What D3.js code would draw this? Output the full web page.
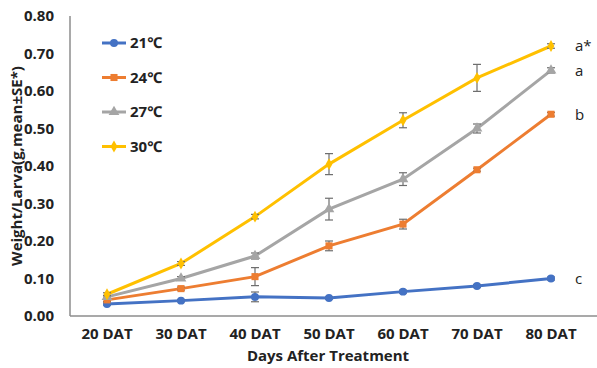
<!DOCTYPE html>
<html>
<head>
<meta charset="utf-8">
<script src="https://cdn.jsdelivr.net/npm/d3@7"></script>
<style>
  body { margin: 0; background: #fff; }
  text { font-family: "Open Sans", "Noto Sans", sans-serif; }
</style>
</head>
<body>
<svg width="597" height="368"></svg>
<script>
// data
var days = ["20 DAT", "30 DAT", "40 DAT", "50 DAT", "60 DAT", "70 DAT", "80 DAT"];
var temps = ["21℃", "24℃", "27℃", "30℃"];
var t21 = [0.032, 0.041, 0.051, 0.048, 0.065, 0.080, 0.100];
var t24 = [0.043, 0.073, 0.105, 0.187, 0.245, 0.390, 0.538];
var t27 = [0.051, 0.100, 0.160, 0.285, 0.365, 0.500, 0.655];
var t30 = [0.058, 0.140, 0.265, 0.405, 0.522, 0.635, 0.720];
var se21 = [0.003, 0.003, 0.013, 0.003, 0.004, 0.004, 0.004];
var se24 = [0.004, 0.004, 0.024, 0.013, 0.013, 0.004, 0.005];
var se27 = [0.004, 0.005, 0.008, 0.029, 0.017, 0.012, 0.007];
var se30 = [0.004, 0.005, 0.006, 0.028, 0.020, 0.036, 0.006];
var letters = ["c", "b", "a", "a*"];
var yTicks = [0, 0.1, 0.2, 0.3, 0.4, 0.5, 0.6, 0.7, 0.8];

var colors = ["#4472C4", "#ED7D31", "#A5A5A5", "#FFC000"];
var shapes = [d3.symbolCircle, d3.symbolSquare, d3.symbolTriangle, d3.symbolDiamond];
var symSize = [50, 50, 50, 40];

var series = [t21, t24, t27, t30].map(function(v, i) {
    return { name: temps[i], color: colors[i], shape: shapes[i], size: symSize[i],
             letter: letters[i],
             pts: v.map(function(d, j) { return { day: days[j], v: d, se: [se21, se24, se27, se30][i][j] }; }) };
});

var svg = d3.select("svg");
var pLeft = 70, pRight = 588, pTop = 16, pBottom = 316; // plot area

var x = d3.scalePoint().domain(days).range([pLeft, pRight]).padding(0.5);
var y = d3.scaleLinear().domain([0, 0.8]).range([pBottom, pTop]);

// y tick labels
svg.append("g")
    .selectAll("text")
    .data(yTicks)
    .enter().append("text")
    .attr("x", 54)
    .attr("y", function(d) { return y(d); })
    .attr("dy", "0.35em")
    .attr("text-anchor", "end")
    .attr("font-size", 15)
    .attr("font-weight", "bold")
    .attr("fill", "#222")
    .text(function(d) { return d.toFixed(2); });

// x tick labels
svg.append("g")
    .selectAll("text")
    .data(days)
    .enter().append("text")
    .attr("x", function(d) { return x(d); })
    .attr("y", 339)
    .attr("text-anchor", "middle")
    .attr("font-size", 15)
    .attr("font-weight", "bold")
    .attr("fill", "#222")
    .text(function(d) { return d; });

// axis lines
svg.append("line").attr("x1", pLeft).attr("x2", pLeft).attr("y1", pTop).attr("y2", pBottom)
    .attr("stroke", "#8c8c8c").attr("stroke-width", 1.5);
svg.append("line").attr("x1", pLeft).attr("x2", 597).attr("y1", pBottom).attr("y2", pBottom)
    .attr("stroke", "#8c8c8c").attr("stroke-width", 1.5);

// axis titles
svg.append("text")
    .attr("x", 328).attr("y", 361)
    .attr("text-anchor", "middle")
    .attr("font-size", 15).attr("font-weight", "bold").attr("fill", "#222")
    .text("Days After Treatment");
svg.append("text")
    .attr("transform", "translate(22," + ((pTop + pBottom) / 2) + ") rotate(-90)")
    .attr("text-anchor", "middle")
    .attr("font-size", 15).attr("font-weight", "bold").attr("fill", "#222")
    .text("Weight/Larva(g,mean±SE*)");

var line = d3.line()
    .x(function(d) { return x(d.day); })
    .y(function(d) { return y(d.v); });

var g = svg.append("g").selectAll("g")
    .data(series)
    .enter().append("g");

g.append("path")
    .attr("d", function(d) { return line(d.pts); })
    .attr("fill", "none")
    .attr("stroke", function(d) { return d.color; })
    .attr("stroke-width", 3);

// error bars
g.each(function(s) {
    var eb = d3.select(this).selectAll("g.eb")
        .data(s.pts)
        .enter().append("g")
        .attr("class", "eb")
        .attr("stroke", "#6e6e6e")
        .attr("stroke-width", 1.2);
    eb.append("line")
        .attr("x1", function(d) { return x(d.day); })
        .attr("x2", function(d) { return x(d.day); })
        .attr("y1", function(d) { return y(d.v - d.se); })
        .attr("y2", function(d) { return y(d.v + d.se); });
    [-1, 1].forEach(function(sg) {
        eb.append("line")
            .attr("x1", function(d) { return x(d.day) - 4; })
            .attr("x2", function(d) { return x(d.day) + 4; })
            .attr("y1", function(d) { return y(d.v + sg * d.se); })
            .attr("y2", function(d) { return y(d.v + sg * d.se); });
    });
});

g.each(function(s) {
    d3.select(this).selectAll("path.m")
        .data(s.pts)
        .enter().append("path")
        .attr("class", "m")
        .attr("transform", function(d) { return "translate(" + x(d.day) + "," + y(d.v) + ")"; })
        .attr("d", d3.symbol().type(s.shape).size(s.size))
        .attr("fill", s.color);
});

// significance letters
g.append("text")
    .attr("x", x(days[days.length - 1]) + 24)
    .attr("y", function(d) { return y(d.pts[d.pts.length - 1].v); })
    .attr("dy", "0.35em")
    .attr("font-size", 15)
    .attr("fill", "#222")
    .text(function(d) { return d.letter; });

// legend
var leg = svg.append("g").selectAll("g")
    .data(series)
    .enter().append("g")
    .attr("transform", function(d, i) { return "translate(102," + (43 + i * 34.5) + ")"; });
leg.append("line").attr("x1", 0).attr("x2", 24)
    .attr("stroke", function(d) { return d.color; }).attr("stroke-width", 3);
leg.append("path")
    .attr("transform", "translate(12,0)")
    .attr("d", function(d) { return d3.symbol().type(d.shape).size(d.size)(); })
    .attr("fill", function(d) { return d.color; });
leg.append("text")
    .attr("x", 28).attr("dy", "0.35em")
    .attr("font-size", 15).attr("font-weight", "bold").attr("fill", "#222")
    .text(function(d) { return d.name; });
</script>
</body>
</html>
